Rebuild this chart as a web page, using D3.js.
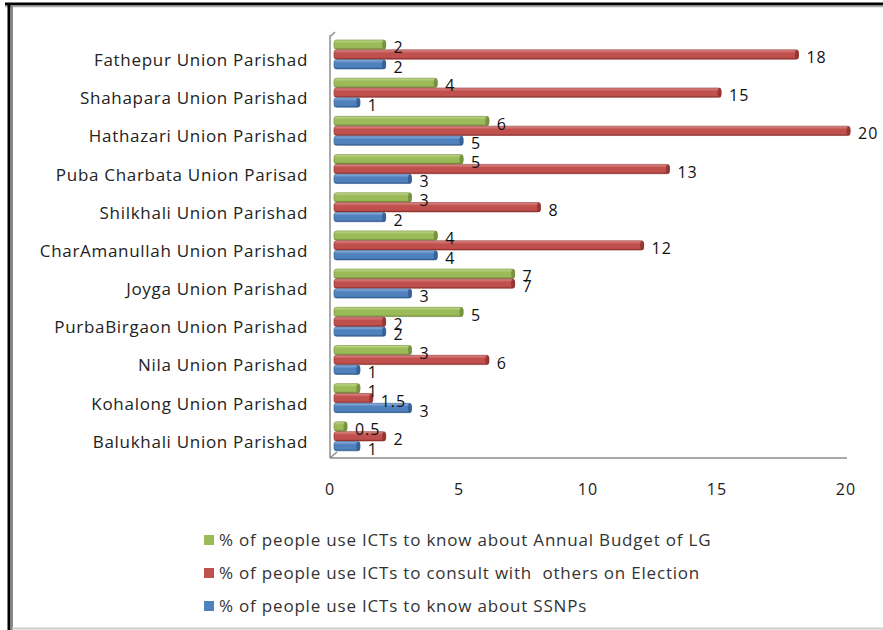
<!DOCTYPE html>
<html>
<head>
<meta charset="utf-8">
<script src="https://cdn.jsdelivr.net/npm/d3@7"></script>
<style>
  body { margin: 0; background: #fff; }
  svg { display: block; font-family: "Open Sans", sans-serif; }
  .cat-label { font-size: 17px; letter-spacing: 0.7px; fill: #222; }
  .val-label { font-size: 16px; letter-spacing: 1px; fill: #111; }
  .tick-label { font-size: 16px; letter-spacing: 1px; fill: #222; }
  .legend-text { font-size: 17px; letter-spacing: 0.8px; fill: #333; white-space: pre; }
</style>
</head>
<body>
<svg id="chart"></svg>
<script>
// categories top to bottom
const parishads = [
  'Fathepur Union Parishad',
  'Shahapara Union Parishad',
  'Hathazari Union Parishad',
  'Puba Charbata Union Parisad',
  'Shilkhali Union Parishad',
  'CharAmanullah Union Parishad',
  'Joyga Union Parishad',
  'PurbaBirgaon Union Parishad',
  'Nila Union Parishad',
  'Kohalong Union Parishad',
  'Balukhali Union Parishad'
];

const budgetValues   = [2, 4, 6, 5, 3, 4, 7, 5, 3, 1, 0.5];
const electionValues = [18, 15, 20, 13, 8, 12, 7, 2, 6, 1.5, 2];
const ssnpValues     = [2, 1, 5, 3, 2, 4, 3, 2, 1, 3, 1];

const seriesNames = [
  '% of people use ICTs to know about Annual Budget of LG',
  '% of people use ICTs to consult with  others on Election',
  '% of people use ICTs to know about SSNPs'
];
const seriesValues = [budgetValues, electionValues, ssnpValues];
const xTicks = [0, 5, 10, 15, 20];

const colors = ['#9bbb59', '#c0504d', '#4f81bd'];
const darker = ['#6f8a38', '#8c2f2c', '#2f5a8e'];
const lighter = ['#c4da8e', '#e08f8c', '#95b5e0'];

const width = 883, height = 630;

const svg = d3.select('#chart')
  .attr('width', width)
  .attr('height', height);

// cylinder-ish gradients
const defs = svg.append('defs');
colors.forEach((c, i) => {
  const g = defs.append('linearGradient')
    .attr('id', 'grad' + i)
    .attr('x1', 0).attr('y1', 0).attr('x2', 0).attr('y2', 1);
  g.append('stop').attr('offset', '0%').attr('stop-color', lighter[i]);
  g.append('stop').attr('offset', '35%').attr('stop-color', c);
  g.append('stop').attr('offset', '80%').attr('stop-color', c);
  g.append('stop').attr('offset', '100%').attr('stop-color', darker[i]);
});

// frame
svg.append('line').attr('x1', 5).attr('x2', width).attr('y1', 4).attr('y2', 4)
  .attr('stroke', '#000').attr('stroke-width', 3);
svg.append('line').attr('x1', 5).attr('x2', width).attr('y1', 6.5).attr('y2', 6.5)
  .attr('stroke', '#aaa').attr('stroke-width', 1.5);
svg.append('line').attr('x1', 9).attr('x2', 9).attr('y1', 3).attr('y2', height)
  .attr('stroke', '#000').attr('stroke-width', 3);
svg.append('line').attr('x1', 12).attr('x2', 12).attr('y1', 6).attr('y2', height)
  .attr('stroke', '#888').attr('stroke-width', 2);
svg.append('line').attr('x1', 12).attr('x2', width).attr('y1', 628.5).attr('y2', 628.5)
  .attr('stroke', '#ccc').attr('stroke-width', 2);

// scales
const x = d3.scaleLinear().domain([0, 20]).range([334, 850]);
const y = d3.scaleBand().domain(parishads).range([40, 460]);
const ySub = d3.scaleBand().domain(d3.range(3)).range([0, 29]).paddingInner(0.05);

// 3D wall / floor lines
const wall = svg.append('g').attr('stroke', '#8c8c8c').attr('stroke-width', 1.5).attr('fill', 'none');
wall.append('path').attr('d', `M${x(0) - 3},36 L${x(0) + 1},32`);
wall.append('line').attr('x1', x(0) - 4).attr('x2', x(0) - 4).attr('y1', 35).attr('y2', 458);
wall.append('line').attr('x1', x(0) - 4).attr('x2', x(20) - 3).attr('y1', 458).attr('y2', 458);
wall.append('path').attr('d', `M${x(0) - 4},458 L${x(0) + 3},452`);

// category labels
svg.append('g').selectAll('text')
  .data(parishads)
  .join('text')
  .attr('class', 'cat-label')
  .attr('x', 308)
  .attr('y', d => y(d) + y.bandwidth() / 2 + 1)
  .attr('dy', '0.35em')
  .attr('text-anchor', 'end')
  .text(d => d);

// bars
const rows = [];
parishads.forEach((p, pi) => {
  seriesValues.forEach((vals, si) => {
    rows.push({ parishad: p, series: si, value: vals[pi] });
  });
});

const barH = ySub.bandwidth();
const bars = svg.append('g');
bars.selectAll('rect.bar')
  .data(rows)
  .join('rect')
  .attr('class', 'bar')
  .attr('x', x(0))
  .attr('y', d => y(d.parishad) + ySub(d.series))
  .attr('width', d => x(d.value) - x(0))
  .attr('height', barH)
  .attr('rx', 2.5)
  .attr('fill', d => `url(#grad${d.series})`)
  .attr('stroke', d => darker[d.series])
  .attr('stroke-width', 0.6);

// rounded end cap
bars.selectAll('ellipse')
  .data(rows)
  .join('ellipse')
  .attr('cx', d => x(d.value) - 1.5)
  .attr('cy', d => y(d.parishad) + ySub(d.series) + barH / 2)
  .attr('rx', 2)
  .attr('ry', barH / 2)
  .attr('fill', d => darker[d.series])
  .attr('opacity', 0.8);

// value labels
svg.append('g').selectAll('text')
  .data(rows)
  .join('text')
  .attr('class', 'val-label')
  .attr('x', d => x(d.value) + 8)
  .attr('y', d => y(d.parishad) + ySub(d.series) + barH / 2 + 3)
  .attr('dy', '0.35em')
  .text(d => d.value);

// x tick labels
svg.append('g').selectAll('text')
  .data(xTicks)
  .join('text')
  .attr('class', 'tick-label')
  .attr('x', d => x(d) - 4)
  .attr('y', 489)
  .attr('dy', '0.35em')
  .attr('text-anchor', 'middle')
  .text(d => d);

// legend
const legend = svg.append('g');
const legendY = [540, 573, 606];
seriesNames.forEach((name, i) => {
  legend.append('rect')
    .attr('x', 204).attr('y', legendY[i] - 5)
    .attr('width', 10).attr('height', 10)
    .attr('fill', colors[i]);
  legend.append('text')
    .attr('class', 'legend-text')
    .attr('x', 219).attr('y', legendY[i])
    .attr('dy', '0.35em')
    .text(name);
});
</script>
</body>
</html>
